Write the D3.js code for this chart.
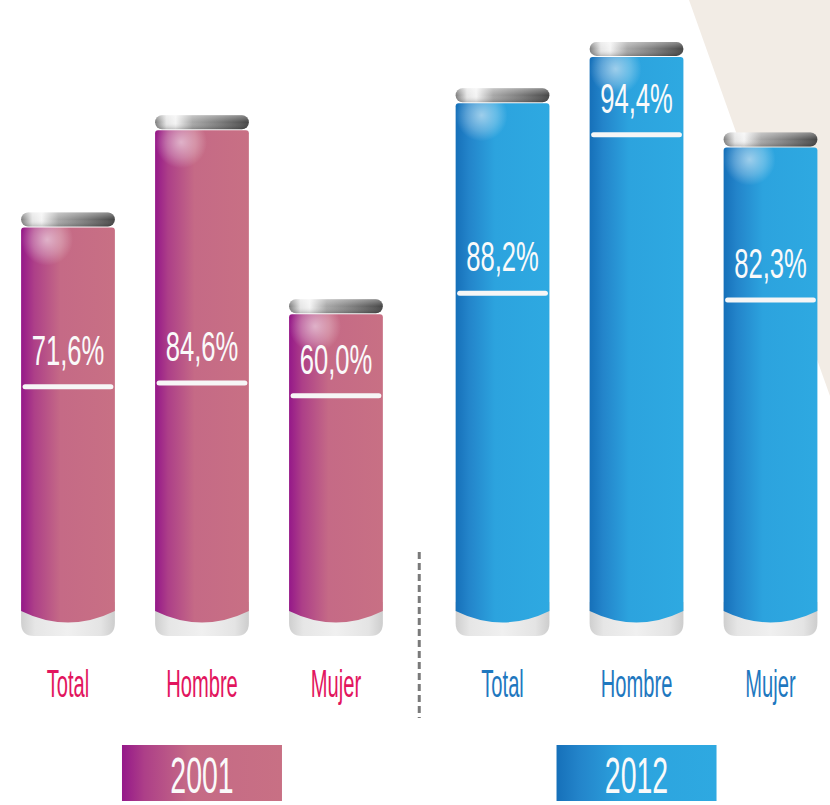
<!DOCTYPE html>
<html>
<head>
<meta charset="utf-8">
<script src="https://cdn.jsdelivr.net/npm/d3@7"></script>
<style>
html,body{margin:0;padding:0;background:#fff;overflow:hidden}
</style>
</head>
<body>
<svg id="chart" width="830" height="805"></svg>
<script>
// ---------- data ----------
const years = ["2001", "2012"];
const categories = ["Total", "Hombre", "Mujer"];
const values2001 = [71.6, 84.6, 60.0];
const values2012 = [88.2, 94.4, 82.3];
// level (in % units) at which each value label's underline sits
const labelAt2001 = [48.3, 48.8, 47.1];
const labelAt2012 = [60.8, 82.0, 59.9];

const valuesByYear = { "2001": values2001, "2012": values2012 };
const labelAtByYear = { "2001": labelAt2001, "2012": labelAt2012 };

// ---------- styles ----------
const palette = {
  "2001": { stops: ["#951889", "#ad3f88", "#c56a86", "#c87084"], text: "#e2155e" },
  "2012": { stops: ["#1670b9", "#2384ca", "#2ca3de", "#2ea9e1"], text: "#1f78bf" }
};
const FONT = "'Liberation Sans', Arial, sans-serif";

const W = 830, H = 805;
const svg = d3.select("#chart");
const defs = svg.append("defs");

// scales
const x0 = d3.scaleBand().domain(years).range([1, 837.5]).paddingInner(0.075);
const x1 = d3.scaleBand().domain(categories).range([0, x0.bandwidth()])
  .paddingInner(0.3).paddingOuter(0.15);
const y = d3.scaleLinear().domain([15, 100]).range([636, 0]);
const B = y.range()[0];

// background beige wedge
svg.append("polygon")
  .attr("points", `689,0 ${W},0 ${W},396`)
  .attr("fill", "#f2ece5");

// gradients
years.forEach(yr => {
  const g = defs.append("linearGradient").attr("id", "body" + yr)
    .attr("x1", "0").attr("x2", "1").attr("y1", "0").attr("y2", "0");
  const offs = [0, 0.14, 0.42, 1];
  palette[yr].stops.forEach((c, i) => g.append("stop").attr("offset", offs[i]).attr("stop-color", c));
});
const capG = defs.append("linearGradient").attr("id", "cap")
  .attr("x1", "0").attr("x2", "1").attr("y1", "0").attr("y2", "0");
[[0, "#7c7c7c"], [0.12, "#e6e6e6"], [0.22, "#f4f4f4"], [0.4, "#a8a8a8"], [0.7, "#7a7a7a"], [0.92, "#555"], [1, "#444"]]
  .forEach(([o, c]) => capG.append("stop").attr("offset", o).attr("stop-color", c));
const capV = defs.append("linearGradient").attr("id", "capV")
  .attr("x1", "0").attr("x2", "0").attr("y1", "0").attr("y2", "1");
[[0, "#fff", 0.35], [0.5, "#fff", 0], [1, "#000", 0.2]]
  .forEach(([o, c, op]) => capV.append("stop").attr("offset", o).attr("stop-color", c).attr("stop-opacity", op));
const baseG = defs.append("linearGradient").attr("id", "base")
  .attr("x1", "0").attr("x2", "1").attr("y1", "0").attr("y2", "0");
[[0, "#cfcfcf"], [0.15, "#e6e6e6"], [0.5, "#f0f0f0"], [0.85, "#e4e4e4"], [1, "#cdcdcd"]]
  .forEach(([o, c]) => baseG.append("stop").attr("offset", o).attr("stop-color", c));
const glow = defs.append("radialGradient").attr("id", "glow");
[[0, 0.55], [0.6, 0.25], [1, 0]]
  .forEach(([o, op]) => glow.append("stop").attr("offset", o).attr("stop-color", "#fff").attr("stop-opacity", op));

// table
const bars = [];
years.forEach(yr => categories.forEach((c, j) => bars.push({
  year: yr, cat: c, value: valuesByYear[yr][j], labelAt: labelAtByYear[yr][j]
})));

const fmt = v => v.toFixed(1).replace(".", ",") + "%";

const gBars = svg.append("g");
bars.forEach(d => {
  const bx = x0(d.year) + x1(d.cat);
  const bw = x1.bandwidth();
  const top = y(d.value);
  const capH = 14;
  const bt = top + capH + 1;
  const g = gBars.append("g");

  // base (light grey foot)
  const r = 13, baseTop = B - 34;
  g.append("path")
    .attr("d", `M${bx},${baseTop} V${B - r} Q${bx},${B} ${bx + r},${B} H${bx + bw - r} Q${bx + bw},${B} ${bx + bw},${B - r} V${baseTop} Z`)
    .attr("fill", "url(#base)");

  // body
  const sideBottom = B - 25;
  g.append("path")
    .attr("d", `M${bx},${bt + 3} Q${bx},${bt} ${bx + 3},${bt} H${bx + bw - 3} Q${bx + bw},${bt} ${bx + bw},${bt + 3} V${sideBottom} Q${bx + bw / 2},${B - 2} ${bx},${sideBottom} Z`)
    .attr("fill", `url(#body${d.year})`);

  // glow
  g.append("circle").attr("cx", bx + 26).attr("cy", bt + 12).attr("r", 26)
    .attr("fill", "url(#glow)");

  // cap
  g.append("rect").attr("x", bx).attr("y", top).attr("width", bw).attr("height", capH)
    .attr("rx", 7).attr("fill", "url(#cap)");
  g.append("rect").attr("x", bx).attr("y", top).attr("width", bw).attr("height", capH)
    .attr("rx", 7).attr("fill", "url(#capV)");

  // value label
  const ly = y(d.labelAt);
  g.append("line")
    .attr("x1", bx + 4).attr("x2", bx + bw - 4).attr("y1", ly).attr("y2", ly)
    .attr("stroke", "#f6f6f6").attr("stroke-width", 5).attr("stroke-linecap", "round");
  g.append("text")
    .attr("transform", `translate(${bx + bw / 2},${ly - 22}) scale(0.61,1)`)
    .attr("text-anchor", "middle")
    .attr("font-family", FONT).attr("font-size", 42)
    .attr("fill", "#fafafa")
    .text(fmt(d.value));

  // category label
  svg.append("text")
    .attr("transform", `translate(${bx + bw / 2},${B + 61}) scale(0.53,1)`)
    .attr("text-anchor", "middle")
    .attr("font-family", FONT).attr("font-size", 38)
    .attr("fill", palette[d.year].text)
    .text(d.cat);
});

// separator
const sepX = (x0(years[0]) + x0.bandwidth() + x0(years[1])) / 2;
svg.append("line")
  .attr("x1", sepX).attr("x2", sepX).attr("y1", 552).attr("y2", 718)
  .attr("stroke", "#7a7a7a").attr("stroke-width", 3).attr("stroke-dasharray", "7,4");

// year boxes
years.forEach(yr => {
  const cx = x0(yr) + x0.bandwidth() / 2;
  svg.append("rect")
    .attr("x", cx - 80).attr("y", 745).attr("width", 160).attr("height", 56)
    .attr("fill", `url(#body${yr})`);
  svg.append("text")
    .attr("transform", `translate(${cx},793) scale(0.57,1)`)
    .attr("text-anchor", "middle")
    .attr("font-family", FONT).attr("font-size", 50)
    .attr("fill", "#fafafa")
    .text(yr);
});
</script>
</body>
</html>
